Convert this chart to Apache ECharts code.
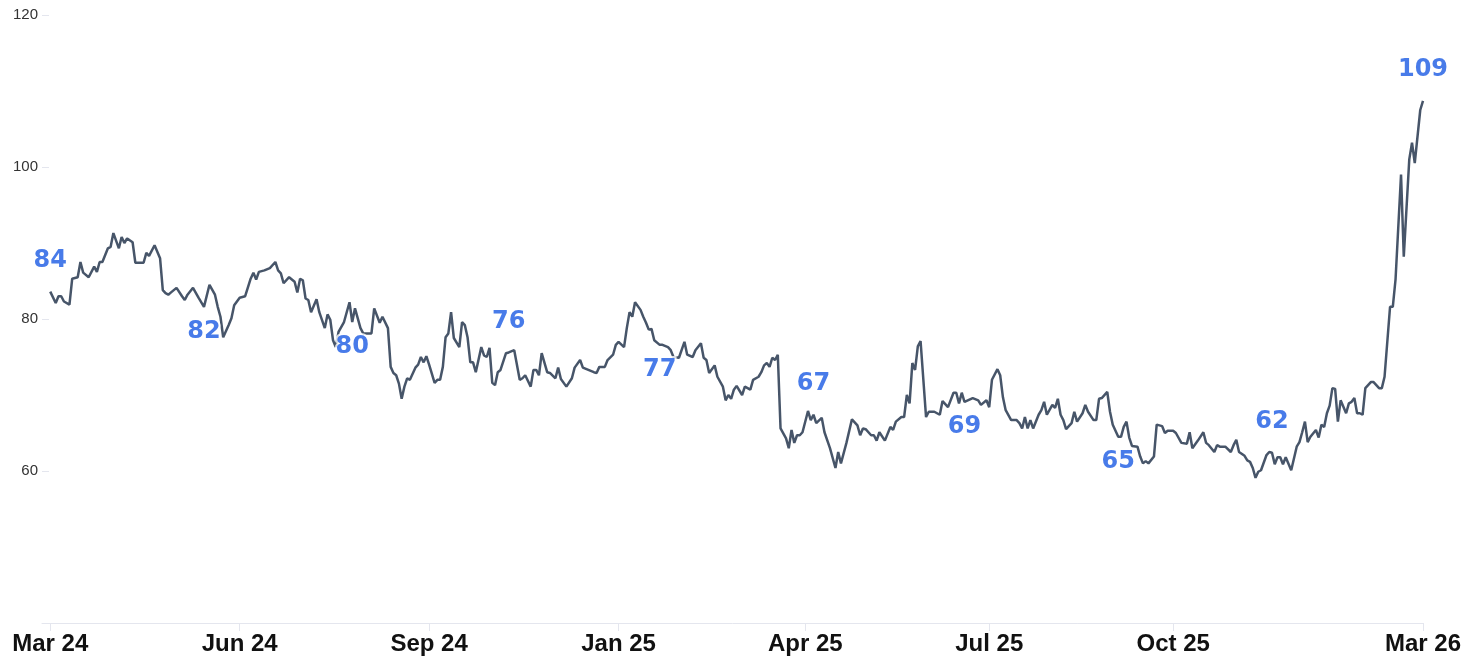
<!DOCTYPE html>
<html>
<head>
<meta charset="utf-8">
<script src="https://cdn.jsdelivr.net/npm/echarts@6/dist/echarts.min.js"></script>
<style>
  html, body { margin: 0; padding: 0; background: #fff; }
  #chart { width: 1470px; height: 657px; }
</style>
</head>
<body>
<div id="chart"></div>
<script>
// trading-day index since Mar 24 and the price on that day
const days = [
  0, 2, 3, 4, 5, 7, 8, 10, 11, 12, 14, 16, 17, 18, 19, 21, 22, 23, 25, 26, 27, 28, 30, 31, 33, 34, 35, 36, 38, 40,
  41, 42, 43, 44, 46, 48, 49, 50, 52, 54, 56, 58, 60, 61, 62, 63, 65, 66, 67, 69, 71, 73, 74, 75, 76, 78, 80, 82, 83, 84,
  85, 87, 89, 90, 91, 92, 93, 94, 95, 97, 98, 100, 101, 102, 103, 104, 105, 107, 109, 110, 111, 113, 114, 117, 118, 120, 121, 123, 124, 125,
  126, 127, 128, 129, 130, 131, 133, 134, 135, 136, 137, 138, 140, 141, 142, 143, 144, 145, 146, 147, 149, 150, 151, 152, 153, 154, 155, 157, 158, 159,
  160, 161, 162, 163, 164, 166, 167, 169, 171, 172, 173, 175, 176, 177, 178, 179, 181, 182, 184, 185, 186, 188, 190, 191, 193, 194, 196, 198, 199, 200,
  202, 203, 205, 206, 207, 209, 210, 211, 212, 213, 215, 216, 217, 218, 219, 220, 222, 223, 225, 226, 227, 229, 231, 232, 234, 235, 237, 238, 239, 240,
  242, 243, 245, 246, 247, 248, 249, 250, 252, 253, 255, 256, 258, 259, 260, 261, 262, 263, 264, 265, 266, 268, 269, 270, 271, 272, 273, 274, 276, 277,
  278, 279, 281, 282, 284, 286, 287, 288, 290, 292, 294, 295, 296, 297, 299, 300, 301, 302, 304, 306, 307, 308, 310, 311, 312, 313, 314, 315, 316, 317,
  319, 320, 322, 324, 325, 327, 329, 330, 331, 332, 333, 336, 338, 339, 341, 342, 343, 345, 346, 347, 348, 350, 352, 353, 354, 355, 356, 357, 358, 360,
  361, 362, 363, 365, 366, 367, 368, 369, 370, 372, 373, 374, 376, 377, 378, 380, 381, 382, 383, 385, 386, 387, 389, 390, 391, 392, 393, 394, 396, 397,
  398, 399, 400, 402, 403, 405, 406, 407, 409, 410, 412, 414, 415, 416, 418, 420, 421, 422, 424, 425, 426, 428, 430, 431, 432, 433, 435, 436, 437, 438,
  439, 440, 441, 443, 444, 445, 446, 447, 448, 449, 450, 452, 454, 455, 456, 457, 458, 459, 461, 462, 463, 464, 465, 466, 467, 468, 469, 470, 472, 473,
  474, 475, 476, 477, 478, 479, 481, 482, 484, 485, 486, 488, 489, 490, 492, 493, 495, 496, 497, 499, 500
];
const prices = [
  83.6, 82.1, 83.0, 83.0, 82.3, 81.9, 85.3, 85.5, 87.5, 86.1, 85.5, 86.9, 86.2, 87.5, 87.5, 89.3, 89.5, 91.3, 89.3, 90.8, 90.0, 90.6, 90.1, 87.4, 87.4, 87.4, 88.7, 88.3, 89.7, 88.0,
  83.8, 83.4, 83.2, 83.5, 84.1, 83.0, 82.5, 83.2, 84.1, 82.8, 81.6, 84.5, 83.2, 81.6, 80.3, 77.6, 79.2, 80.1, 81.8, 82.8, 83.0, 85.3, 86.1, 85.2, 86.2, 86.4, 86.7, 87.5, 86.4, 86.0,
  84.7, 85.5, 84.9, 83.5, 85.3, 85.1, 82.7, 82.5, 80.9, 82.6, 80.9, 78.8, 80.6, 79.9, 77.2, 76.3, 78.3, 79.6, 82.2, 79.6, 81.4, 78.8, 78.1, 78.1, 81.4, 79.5, 80.3, 78.8, 73.7, 72.9,
  72.6, 71.5, 69.5, 71.1, 72.2, 72.0, 73.6, 74.0, 75.0, 74.3, 75.1, 74.0, 71.6, 72.0, 72.0, 73.7, 77.6, 78.1, 80.9, 77.5, 76.3, 79.6, 79.2, 77.6, 74.3, 74.3, 73.0, 76.3, 75.2, 75.0,
  76.2, 71.6, 71.3, 73.0, 73.3, 75.5, 75.6, 75.9, 72.0, 72.2, 72.6, 71.1, 73.3, 73.3, 72.6, 75.5, 73.0, 72.9, 72.2, 73.6, 72.1, 71.1, 72.2, 73.6, 74.6, 73.6, 73.3, 73.0, 72.9, 73.7,
  73.7, 74.6, 75.3, 76.6, 77.0, 76.3, 78.8, 80.9, 80.3, 82.2, 81.2, 80.3, 79.5, 78.6, 78.7, 77.2, 76.6, 76.6, 76.3, 75.9, 75.0, 74.9, 77.0, 75.3, 75.0, 75.9, 76.8, 74.9, 74.6, 72.9,
  73.9, 72.4, 71.1, 69.3, 70.0, 69.5, 70.7, 71.2, 70.0, 71.1, 70.7, 72.0, 72.4, 73.0, 73.9, 74.2, 73.7, 74.9, 74.6, 75.3, 65.6, 64.3, 63.0, 65.4, 63.7, 64.7, 64.7, 65.1, 67.9, 66.7,
  67.4, 66.3, 67.0, 65.1, 63.0, 60.4, 62.5, 61.0, 63.7, 66.8, 66.0, 64.7, 65.6, 65.5, 64.7, 64.7, 64.0, 65.1, 64.0, 65.8, 65.4, 66.5, 67.1, 67.1, 70.0, 68.9, 74.2, 73.3, 76.4, 77.1,
  67.1, 67.8, 67.8, 67.4, 69.2, 68.4, 70.3, 70.3, 68.9, 70.3, 69.1, 69.6, 69.3, 68.7, 69.3, 68.4, 72.0, 73.4, 72.6, 69.7, 68.0, 66.7, 66.7, 66.3, 65.6, 67.1, 65.6, 66.7, 65.6, 67.4,
  68.0, 69.1, 67.4, 68.7, 68.3, 69.5, 67.4, 66.7, 65.5, 66.3, 67.8, 66.5, 67.6, 68.7, 67.8, 66.7, 66.7, 69.5, 69.6, 70.4, 67.8, 66.1, 64.5, 64.5, 65.8, 66.5, 64.4, 63.3, 63.2, 61.9,
  61.0, 61.3, 61.0, 61.9, 66.1, 65.9, 65.0, 65.3, 65.3, 65.0, 63.7, 63.6, 65.1, 63.0, 64.0, 65.1, 63.7, 63.4, 62.5, 63.4, 63.2, 63.2, 62.5, 63.4, 64.1, 62.5, 62.0, 61.4, 61.2, 60.4,
  59.1, 59.9, 60.1, 62.1, 62.5, 62.4, 60.9, 61.8, 61.8, 60.9, 61.8, 60.1, 63.2, 63.8, 65.1, 66.5, 63.8, 64.5, 65.4, 64.4, 66.1, 65.8, 67.6, 68.6, 70.9, 70.8, 66.5, 69.3, 67.6, 68.9,
  69.1, 69.6, 67.6, 67.6, 67.4, 70.9, 71.7, 71.7, 70.9, 70.9, 72.4, 81.6, 81.6, 85.2, 99.0, 88.2, 101.0, 103.2, 100.5, 107.5, 108.7
];

// x-axis ticks
const tickDays = [0, 69, 138, 207, 275, 342, 409, 500];
const tickLabels = ['Mar 24', 'Jun 24', 'Sep 24', 'Jan 25', 'Apr 25', 'Jul 25', 'Oct 25', 'Mar 26'];

// days that carry a value callout
const calloutDays = [0, 56, 110, 167, 222, 278, 333, 389, 445, 500];

const above = { position: 'top', distance: 19 };
const below = { position: 'bottom', distance: 13 };
const calloutPlace = [above, below, below, above, below, above, below, below, above, above];

const lineData = days.map((d, i) => [d, prices[i]]);
const calloutData = calloutDays.map((d, k) => {
  const v = prices[days.indexOf(d)];
  return {
    value: [d, v],
    label: calloutPlace[k]
  };
});

const chart = echarts.init(document.getElementById('chart'));
chart.setOption({
  animation: false,
  grid: {
    left: 42,
    right: 47,
    top: 15,
    bottom: 34,
    outerBoundsMode: 'none'
  },
  xAxis: {
    type: 'value',
    min: -3,
    max: 500,
    splitLine: { show: false },
    axisLine: { show: true, onZero: false, lineStyle: { color: '#e4e6ee', width: 1 } },
    axisTick: {
      show: true,
      length: 8,
      customValues: tickDays,
      lineStyle: { color: '#e4e6ee' }
    },
    axisLabel: {
      customValues: tickDays,
      margin: 9,
      color: '#111',
      fontSize: 24,
      fontWeight: 'bold',
      fontFamily: 'Liberation Sans, Arial, sans-serif',
      formatter: function (v) {
        const i = tickDays.indexOf(v);
        return i >= 0 ? tickLabels[i] : '';
      }
    }
  },
  yAxis: {
    type: 'value',
    min: 40,
    max: 120,
    interval: 20,
    splitLine: { show: false },
    axisLine: { show: false, onZero: false },
    axisTick: {
      show: true,
      inside: true,
      length: 7,
      lineStyle: { color: '#e4e6ee' }
    },
    axisLabel: {
      margin: 4,
      color: '#333',
      fontSize: 15,
      fontFamily: 'Liberation Sans, Arial, sans-serif',
      formatter: function (v) {
        return v === 40 ? '' : String(v);
      }
    }
  },
  series: [
    {
      type: 'line',
      data: lineData,
      showSymbol: false,
      lineStyle: { color: '#475569', width: 2.5 },
      z: 2
    },
    {
      type: 'scatter',
      data: calloutData,
      symbolSize: 0,
      z: 5,
      label: {
        show: true,
        color: '#1a5ae4',
        fontSize: 24,
        fontWeight: 'bold',
        fontFamily: 'DejaVu Sans, Verdana, sans-serif',
        textBorderColor: '#fff',
        textBorderWidth: 4,
        formatter: function (p) {
          return Math.round(p.value[1]);
        }
      }
    }
  ]
});
</script>
</body>
</html>
